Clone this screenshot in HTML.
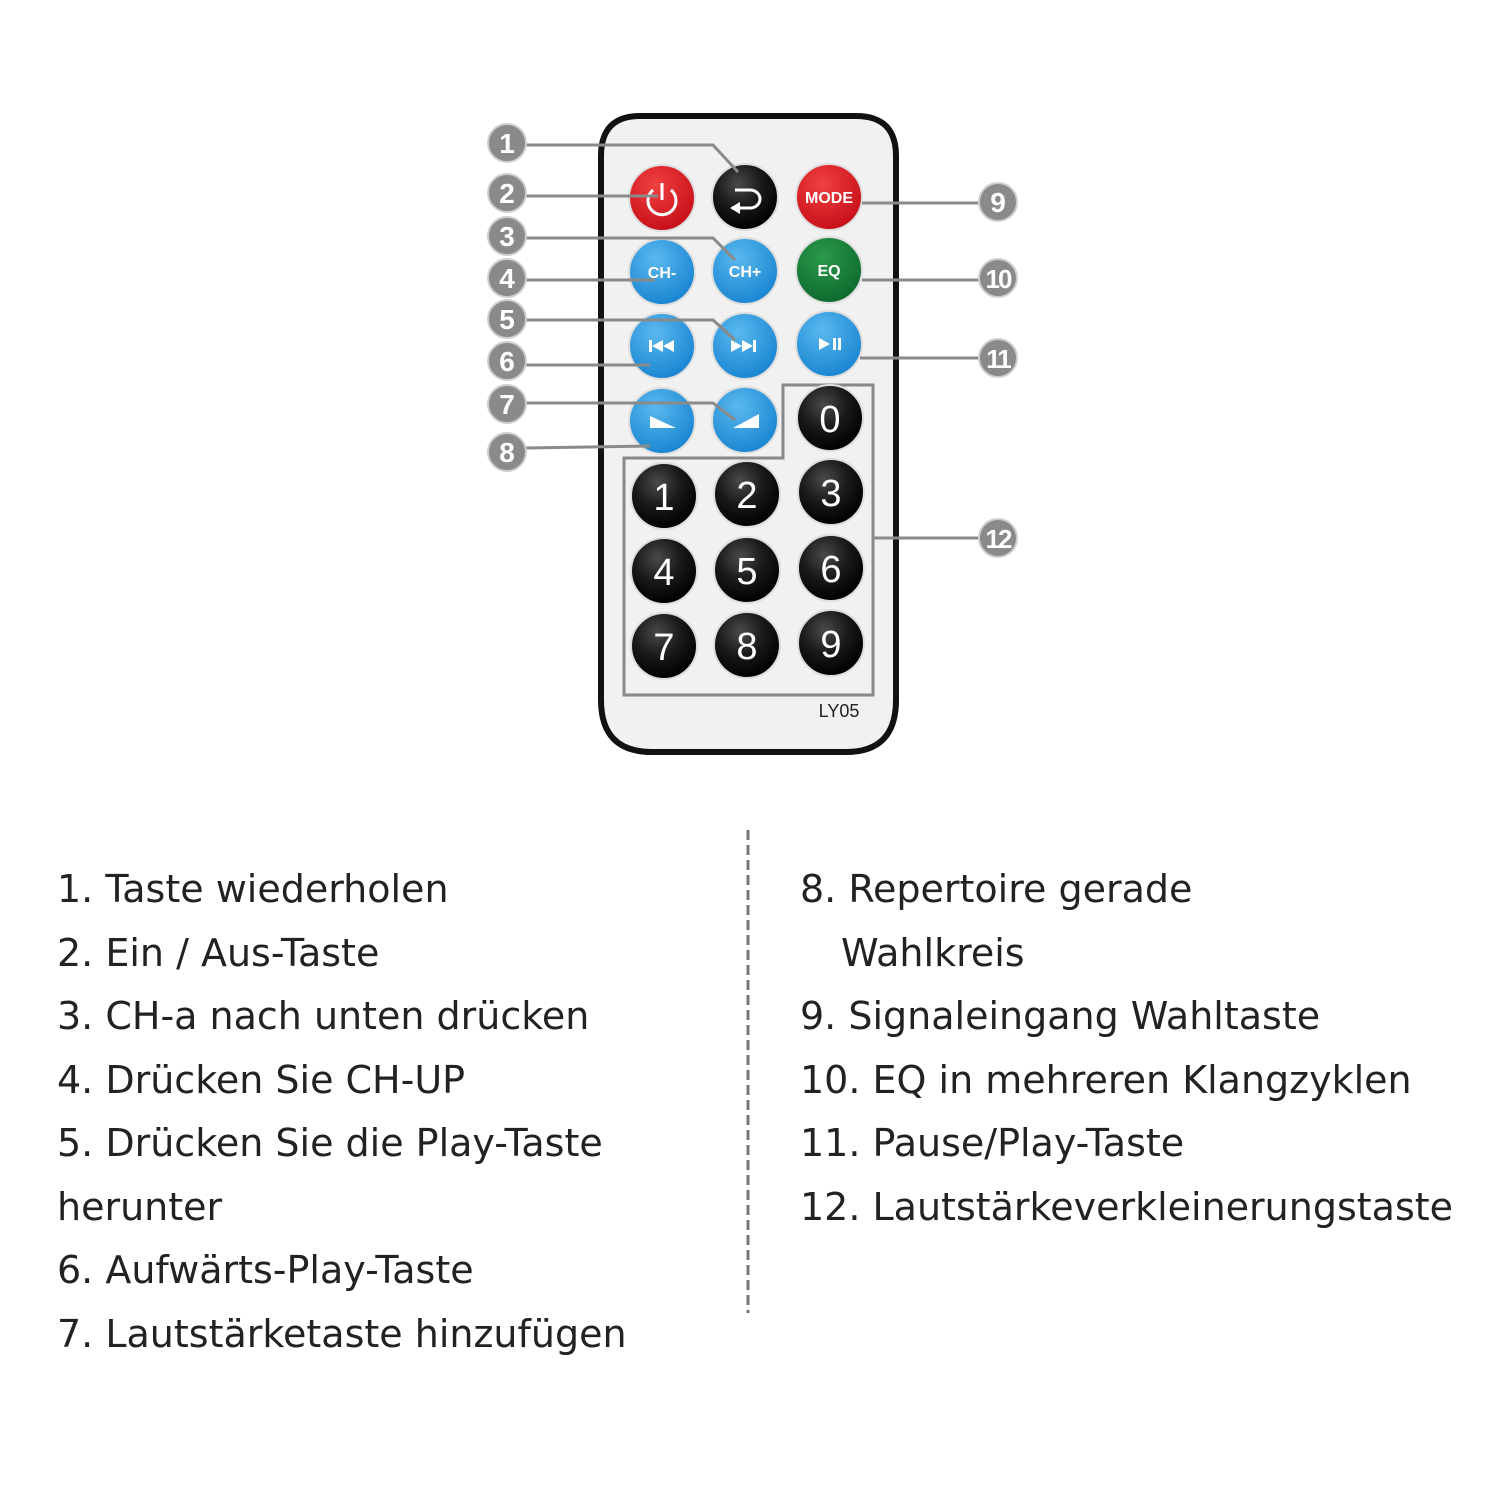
<!DOCTYPE html>
<html><head><meta charset="utf-8"><style>
html,body{margin:0;padding:0;background:#fff;}
body{width:1500px;height:1500px;position:relative;overflow:hidden;font-family:"Liberation Sans",sans-serif;}
.t{position:absolute;font-family:"DejaVu Sans","Liberation Sans",sans-serif;font-size:38px;color:#222;white-space:nowrap;line-height:42px;}
</style></head><body>
<svg width="1500" height="1500" style="position:absolute;left:0;top:0" font-family="Liberation Sans, sans-serif">
<defs>
<radialGradient id="bk" cx="40%" cy="30%" r="70%"><stop offset="0" stop-color="#4a4a4a"/><stop offset="0.5" stop-color="#1a1a1a"/><stop offset="1" stop-color="#000"/></radialGradient>
<radialGradient id="bl" cx="40%" cy="30%" r="70%"><stop offset="0" stop-color="#5ab8ee"/><stop offset="1" stop-color="#1a86d2"/></radialGradient>
<radialGradient id="rd" cx="40%" cy="30%" r="70%"><stop offset="0" stop-color="#f04040"/><stop offset="1" stop-color="#c8101a"/></radialGradient>
<radialGradient id="gr" cx="40%" cy="30%" r="70%"><stop offset="0" stop-color="#2a9a4a"/><stop offset="1" stop-color="#0f6a30"/></radialGradient>
</defs>
<path d="M640,116 H856 Q896,116 896,156 V700 Q896,752 846,752 H652 Q601,752 601,700 V156 Q601,116 640,116 Z" fill="#f1f1f1" stroke="#111" stroke-width="6"/>
<path d="M783,385 H873 V695 H624 V458 H783 Z" fill="none" stroke="#888" stroke-width="3"/>
<g stroke="#ddd" stroke-width="2">
<circle cx="662" cy="198" r="33" fill="url(#rd)"/>
<circle cx="745" cy="197" r="33" fill="url(#bk)"/>
<circle cx="829" cy="197" r="33" fill="url(#rd)"/>
<circle cx="662" cy="272" r="33" fill="url(#bl)"/>
<circle cx="745" cy="271" r="33" fill="url(#bl)"/>
<circle cx="829" cy="270" r="33" fill="url(#gr)"/>
<circle cx="662" cy="346" r="33" fill="url(#bl)"/>
<circle cx="745" cy="346" r="33" fill="url(#bl)"/>
<circle cx="829" cy="344" r="33" fill="url(#bl)"/>
<circle cx="662" cy="421" r="33" fill="url(#bl)"/>
<circle cx="745" cy="420" r="33" fill="url(#bl)"/>
<circle cx="830" cy="418" r="33" fill="url(#bk)"/>
<circle cx="664" cy="496" r="33" fill="url(#bk)"/>
<circle cx="747" cy="494" r="33" fill="url(#bk)"/>
<circle cx="831" cy="492" r="33" fill="url(#bk)"/>
<circle cx="664" cy="571" r="33" fill="url(#bk)"/>
<circle cx="747" cy="570" r="33" fill="url(#bk)"/>
<circle cx="831" cy="568" r="33" fill="url(#bk)"/>
<circle cx="664" cy="646" r="33" fill="url(#bk)"/>
<circle cx="747" cy="645" r="33" fill="url(#bk)"/>
<circle cx="831" cy="643" r="33" fill="url(#bk)"/>
</g>
<g fill="none" stroke="#fff" stroke-width="3">
<path d="M653,190 A14,14 0 1,0 671,190"/><line x1="662" y1="183" x2="662" y2="200"/>
<path d="M735,190 H750 A10,9 0 0,1 750,208 H738"/>
</g>
<polygon points="730,208 740,202 740,214" fill="#fff"/>
<g fill="#fff" font-weight="bold" text-anchor="middle">
<text x="829" y="203" font-size="16">MODE</text>
<text x="662" y="278" font-size="16">CH-</text>
<text x="745" y="277" font-size="16">CH+</text>
<text x="829" y="276" font-size="16">EQ</text>
</g>
<g fill="#fff">
<rect x="649" y="340" width="3" height="12"/><polygon points="652,346 663,340 663,352"/><polygon points="663,346 674,340 674,352"/>
<polygon points="731,340 742,346 731,352"/><polygon points="742,340 753,346 742,352"/><rect x="753" y="340" width="3" height="12"/>
<polygon points="819,338 830,344 819,350"/><rect x="833" y="338" width="3" height="12"/><rect x="838" y="338" width="3" height="12"/>
<polygon points="650,416 676,428 650,428"/>
<polygon points="733,428 759,414 759,428"/>
</g>
<g fill="#fff" font-size="38" text-anchor="middle">
<text x="830" y="432">0</text>
<text x="664" y="510">1</text><text x="747" y="508">2</text><text x="831" y="506">3</text>
<text x="664" y="585">4</text><text x="747" y="584">5</text><text x="831" y="582">6</text>
<text x="664" y="660">7</text><text x="747" y="659">8</text><text x="831" y="657">9</text>
</g>
<text x="839" y="717" font-size="18" text-anchor="middle" fill="#222">LY05</text>
<g fill="none" stroke="#8a8a8a" stroke-width="3">
<polyline points="526,145 713,145 738,172"/>
<line x1="526" y1="196" x2="658" y2="196"/>
<polyline points="526,238 713,238 735,260"/>
<line x1="526" y1="280" x2="655" y2="280"/>
<polyline points="526,320 713,320 735,340"/>
<line x1="526" y1="365" x2="650" y2="365"/>
<polyline points="526,403 713,403 735,420"/>
<line x1="526" y1="448" x2="650" y2="446"/>
<line x1="862" y1="203" x2="980" y2="203"/>
<line x1="862" y1="280" x2="980" y2="280"/>
<line x1="860" y1="358" x2="980" y2="358"/>
<line x1="873" y1="538" x2="980" y2="538"/>
</g>
<g fill="#8a8a8a" stroke="#cfcfcf" stroke-width="2">
<circle cx="507" cy="143" r="19"/><circle cx="507" cy="193" r="19"/><circle cx="507" cy="236" r="19"/>
<circle cx="507" cy="278" r="19"/><circle cx="507" cy="319" r="19"/><circle cx="507" cy="361" r="19"/>
<circle cx="507" cy="404" r="19"/><circle cx="507" cy="452" r="19"/>
<circle cx="998" cy="202" r="19"/><circle cx="998" cy="278" r="19"/><circle cx="998" cy="358" r="19"/><circle cx="998" cy="538" r="19"/>
</g>
<g fill="#fff" font-size="28" font-weight="bold" text-anchor="middle">
<text x="507" y="153">1</text><text x="507" y="203">2</text><text x="507" y="246">3</text>
<text x="507" y="288">4</text><text x="507" y="329">5</text><text x="507" y="371">6</text>
<text x="507" y="414">7</text><text x="507" y="462">8</text>
<text x="998" y="212">9</text>
<text x="998" y="288" font-size="26" letter-spacing="-2">10</text>
<text x="998" y="368" font-size="26" letter-spacing="-2">11</text>
<text x="998" y="548" font-size="26" letter-spacing="-2">12</text>
</g>
<line x1="748" y1="830" x2="748" y2="1313" stroke="#777" stroke-width="3" stroke-dasharray="10,5"/>
</svg>
<div class="t" style="left:57px;top:868px">1. Taste wiederholen</div>
<div class="t" style="left:57px;top:932px">2. Ein / Aus-Taste</div>
<div class="t" style="left:57px;top:995px">3. CH-a nach unten drücken</div>
<div class="t" style="left:57px;top:1059px">4. Drücken Sie CH-UP</div>
<div class="t" style="left:57px;top:1122px">5. Drücken Sie die Play-Taste</div>
<div class="t" style="left:57px;top:1186px">herunter</div>
<div class="t" style="left:57px;top:1249px">6. Aufwärts-Play-Taste</div>
<div class="t" style="left:57px;top:1313px">7. Lautstärketaste hinzufügen</div>
<div class="t" style="left:800px;top:868px">8. Repertoire gerade</div>
<div class="t" style="left:841px;top:932px">Wahlkreis</div>
<div class="t" style="left:800px;top:995px">9. Signaleingang Wahltaste</div>
<div class="t" style="left:800px;top:1059px">10. EQ in mehreren Klangzyklen</div>
<div class="t" style="left:800px;top:1122px">11. Pause/Play-Taste</div>
<div class="t" style="left:800px;top:1186px">12. Lautstärkeverkleinerungstaste</div>
</body></html>
